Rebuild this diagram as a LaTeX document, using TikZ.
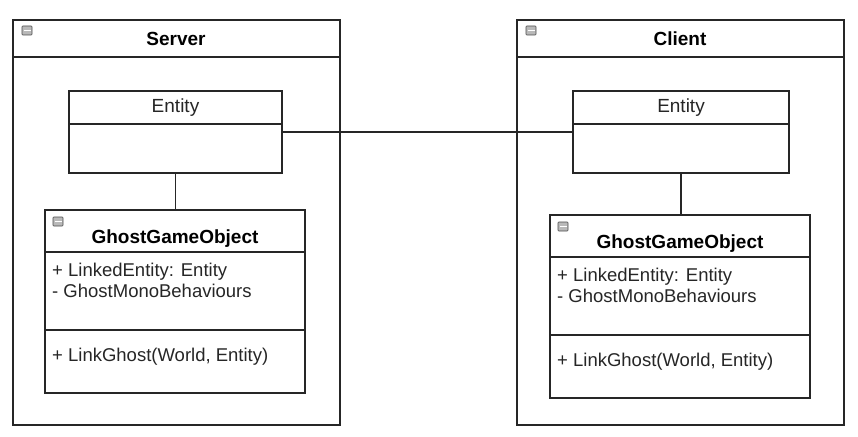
\documentclass[tikz,border=0pt]{standalone}
\usepackage{fontspec}
\setmainfont{Liberation Sans}
\begin{document}
\begin{tikzpicture}[x=1pt,y=-1pt,
  box/.style={draw=black!85,line width=1.1pt,fill=white},
  ln/.style={draw=black!85,line width=1.1pt},
  icon/.style={draw=gray!60!black,fill=gray!55,line width=0.6pt,rounded corners=0.8pt},
  txt/.style={font=\fontsize{18.5}{21}\selectfont,text=black!85,anchor=west,inner sep=0pt},
  ttl/.style={font=\bfseries\fontsize{19}{21}\selectfont,inner sep=0pt}]
\useasboundingbox (0,0) rectangle (858,436);
% frames
\foreach \X/\T/\n in {13/Server/s,517/Client/c}{
  \draw[box] (\X,20) rectangle ++(327,405);
  \draw[ln] (\X,57) -- ++(327,0);
  \draw[icon] (\X+9,26) rectangle ++(10,9);
  \draw[white,line width=1.2pt] (\X+10.5,30.5) -- ++(7,0);
  \node[ttl] (\n title) at (\X+163,39) {\T};
}
% server entity
\draw[box] (69,91) rectangle (282,173);
\draw[ln] (69,124) -- (282,124);
\node[inner sep=0pt,font=\fontsize{19}{21}\selectfont,text=black!85] (se) at (175.5,108) {Entity};
\coordinate (seR) at (282,132);
\coordinate (seB) at (175.5,173);
% client entity
\draw[box] (573,91) rectangle (789,173);
\draw[ln] (573,124) -- (789,124);
\node[inner sep=0pt,font=\fontsize{19}{21}\selectfont,text=black!85] (ce) at (681,108) {Entity};
\coordinate (ceL) at (573,132);
\coordinate (ceB) at (681,173);
\draw[ln] (seR) -- (ceL);
% GGO boxes
\foreach \X/\Y/\n in {45/210/sg,550/215/cg}{
  \draw[box] (\X,\Y) rectangle ++(260,183);
  \draw[ln] (\X,\Y+42) -- ++(260,0);
  \draw[ln] (\X,\Y+120) -- ++(260,0);
  \draw[icon] (\X+8,\Y+7) rectangle ++(10,9);
  \draw[white,line width=1.2pt] (\X+9.5,\Y+11.5) -- ++(7,0);
  \node[ttl] (\n t) at (\X+130,\Y+29) {GhostGameObject};
  \node[txt] (\n a) at (\X+7,\Y+62) {+ LinkedEntity: Entity};
  \node[txt] (\n b) at (\X+7,\Y+81) {- GhostMonoBehaviours};
  \node[txt] (\n c) at (\X+7,\Y+147) {+ LinkGhost(World, Entity)};
}
\draw[ln] (seB) -- (175.5,210);
\draw[ln] (ceB) -- (681,215);
\end{tikzpicture}
\end{document}
